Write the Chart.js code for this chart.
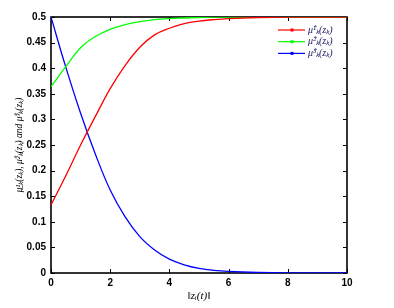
<!DOCTYPE html>
<html>
<head>
<meta charset="utf-8">
<script src="https://cdn.jsdelivr.net/npm/chart.js"></script>
<style>
  html, body { margin: 0; padding: 0; background: #fff; }
</style>
</head>
<body>
<canvas id="grafico" width="394" height="308"></canvas>
<script>
// data
var xValues = [0, 0.5, 1, 1.5, 2, 2.5, 3, 3.5, 4, 4.5, 5, 5.5, 6, 7, 8, 9, 10];
var mu1 = [0.133, 0.19, 0.25, 0.306, 0.36, 0.405, 0.441, 0.465, 0.478, 0.487, 0.492, 0.495, 0.497, 0.499, 0.5, 0.5, 0.5];
var mu2 = [0.364, 0.403, 0.44, 0.462, 0.476, 0.485, 0.491, 0.495, 0.497, 0.498, 0.499, 0.5, 0.5, 0.5, 0.5, 0.5, 0.5];
var mu3 = [0.5, 0.402, 0.312, 0.232, 0.162, 0.11, 0.071, 0.045, 0.027, 0.016, 0.009, 0.005, 0.003, 0.001, 0, 0, 0];
var seriesLabels = ['μ̂¹ₖ(zₖ)', 'μ̂²ₖ(zₖ)', 'μ̂³ₖ(zₖ)'];
var seriesColors = ['#ff0000', '#00ff00', '#0000ff'];
var xTicks = [0, 2, 4, 6, 8, 10];
var xTickLabels = ['0', '2', '4', '6', '8', '10'];
var yTicks = [0, 0.05, 0.1, 0.15, 0.2, 0.25, 0.3, 0.35, 0.4, 0.45, 0.5];
var yTickLabels = ['0', '0.05', '0.1', '0.15', '0.2', '0.25', '0.3', '0.35', '0.4', '0.45', '0.5'];
var xTitle = '‖zᵢ(t)‖';
var yTitle = 'μ̲¹ₖ(zₖ), μ̂²ₖ(zₖ) and μ̂³ₖ(zₖ)';

function punti(ys) {
  return xValues.map(function(x, i) { return { x: x, y: ys[i] }; });
}

// box, inward ticks, titles and legend, MATLAB style
var matlabLook = {
  id: 'matlabLook',
  beforeDatasetsDraw: function(chart) {
    var ctx = chart.ctx, a = chart.chartArea;
    var xs = chart.scales.x, ys = chart.scales.y;
    ctx.save();
    ctx.strokeStyle = '#000';
    ctx.lineWidth = 1;
    ctx.beginPath();
    xTicks.forEach(function(v) {
      var px = Math.round(xs.getPixelForValue(v)) + 0.5;
      ctx.moveTo(px, a.bottom); ctx.lineTo(px, a.bottom - 4);
      ctx.moveTo(px, a.top); ctx.lineTo(px, a.top + 4);
    });
    yTicks.forEach(function(v) {
      var py = Math.round(ys.getPixelForValue(v)) + 0.5;
      ctx.moveTo(a.left, py); ctx.lineTo(a.left + 4, py);
      ctx.moveTo(a.right, py); ctx.lineTo(a.right - 4, py);
    });
    ctx.stroke();
    ctx.lineWidth = 1.6;
    ctx.strokeRect(a.left, a.top, a.right - a.left, a.bottom - a.top);
    ctx.restore();
  },
  afterDraw: function(chart) {
    var ctx = chart.ctx, a = chart.chartArea;
    ctx.save();
    ctx.fillStyle = '#000';
    ctx.textAlign = 'center';
    ctx.textBaseline = 'middle';
    ctx.font = 'italic 11px "Liberation Serif"';
    ctx.fillText(xTitle, (a.left + a.right) / 2, 296);
    ctx.save();
    ctx.translate(19, (a.top + a.bottom) / 2);
    ctx.rotate(-Math.PI / 2);
    ctx.font = 'italic 9.5px "Liberation Serif"';
    ctx.fillText(yTitle, 0, 0);
    ctx.restore();

    // legend
    ctx.textAlign = 'left';
    ctx.font = 'italic 10px "Liberation Serif"';
    chart.data.datasets.forEach(function(ds, i) {
      var y = 30 + i * 11.7;
      ctx.strokeStyle = ds.borderColor;
      ctx.lineWidth = 1.2;
      ctx.beginPath();
      ctx.moveTo(278, y); ctx.lineTo(305, y);
      ctx.stroke();
      ctx.fillStyle = ds.borderColor;
      ctx.fillRect(290.5, y - 1.5, 3, 3);
      ctx.fillStyle = '#1a1a60';
      ctx.fillText(ds.label, 308, y);
    });
    ctx.restore();
  }
};

var ctx = document.getElementById('grafico');
var chart = new Chart(ctx, {
  type: 'line',
  data: {
    datasets: seriesLabels.map(function(lab, i) {
      return {
        label: lab,
        data: punti([mu1, mu2, mu3][i]),
        borderColor: seriesColors[i],
        backgroundColor: seriesColors[i],
        borderWidth: 1.3,
        pointRadius: 0,
        tension: 0.4,
        fill: false
      };
    })
  },
  options: {
    responsive: false,
    animation: false,
    layout: { padding: { left: 0, top: 17, right: 47, bottom: 0 } },
    plugins: { legend: { display: false }, tooltip: { enabled: false } },
    scales: {
      x: {
        type: 'linear',
        min: 0,
        max: 10,
        grid: { display: false, drawTicks: false },
        border: { display: false },
        afterBuildTicks: function(s) { s.ticks = xTicks.map(function(v) { return { value: v }; }); },
        afterFit: function(s) { s.height = 35; },
        ticks: {
          padding: 4,
          maxRotation: 0,
          color: '#000',
          font: { family: '"Liberation Sans"', size: 10, weight: 'bold' },
          callback: function(v) { return xTickLabels[xTicks.indexOf(v)]; }
        }
      },
      y: {
        min: 0,
        max: 0.5,
        grid: { display: false, drawTicks: false },
        border: { display: false },
        afterBuildTicks: function(s) { s.ticks = yTicks.map(function(v) { return { value: v }; }); },
        afterFit: function(s) { s.width = 51; },
        ticks: {
          padding: 5,
          color: '#000',
          font: { family: '"Liberation Sans"', size: 10, weight: 'bold' },
          callback: function(v) { return yTickLabels[yTicks.indexOf(v)]; }
        }
      }
    }
  },
  plugins: [matlabLook]
});
</script>
</body>
</html>
